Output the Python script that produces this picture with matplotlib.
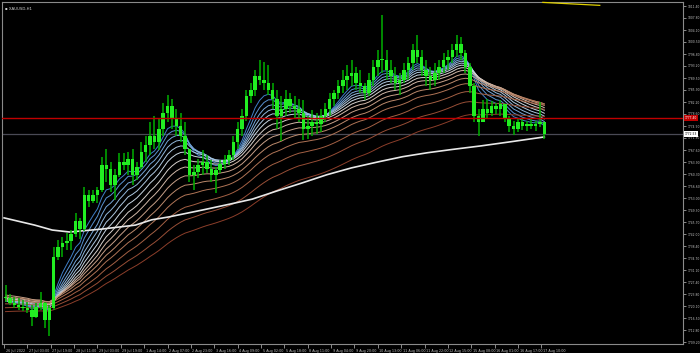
import numpy as np
import pandas as pd
import matplotlib
matplotlib.use("Agg")
import matplotlib.pyplot as plt
import matplotlib.transforms as mtransforms

# XAUUSD H1 in 3-hour blocks
high = [1726.6, 1723.8, 1723.0, 1722.5, 1722.0, 1721.5, 1720.5, 1721.0, 1724.5, 1721.5,
        1720.5, 1738.0, 1740.3, 1741.2, 1742.4, 1743.3, 1748.5, 1747.0, 1756.4, 1755.5,
        1755.5, 1756.4, 1765.5, 1768.0, 1764.0, 1762.0, 1766.7, 1766.7, 1767.0, 1768.0,
        1764.0, 1770.0, 1772.0, 1776.0, 1778.0, 1777.0, 1782.0, 1784.3, 1783.0, 1780.0,
        1779.0, 1776.0, 1767.6, 1763.0, 1765.0, 1767.6, 1766.0, 1764.6, 1762.5, 1764.6,
        1766.0, 1767.6, 1772.0, 1776.0, 1780.0, 1785.9, 1788.0, 1792.0, 1795.0, 1794.5,
        1793.4, 1788.0, 1786.0, 1784.0, 1785.9, 1785.0, 1784.0, 1783.0, 1782.8, 1778.0,
        1779.8, 1779.0, 1780.0, 1782.0, 1785.0, 1786.0, 1789.0, 1791.9, 1793.4, 1795.0,
        1793.0, 1792.0, 1788.0, 1791.0, 1795.0, 1798.0, 1808.7, 1798.0, 1795.0, 1793.0,
        1791.0, 1794.0, 1796.0, 1800.0, 1802.6, 1798.0, 1795.0, 1793.0, 1794.0, 1795.0,
        1797.0, 1798.0, 1800.0, 1802.6, 1802.0, 1798.0, 1794.0, 1788.0, 1780.0, 1782.8,
        1783.0, 1782.5, 1782.0, 1782.8, 1781.0, 1778.0, 1776.5, 1777.5, 1777.0, 1776.5,
        1777.0, 1776.5, 1782.2, 1776.0]
low = [1721.5, 1720.5, 1719.5, 1719.0, 1718.6, 1718.0, 1714.0, 1716.5, 1719.0, 1713.5,
       1711.0, 1719.0, 1734.2, 1735.1, 1737.2, 1737.2, 1741.2, 1740.5, 1743.0, 1750.3,
       1751.5, 1751.5, 1755.0, 1758.0, 1755.0, 1752.4, 1759.4, 1761.6, 1760.0, 1757.0,
       1758.5, 1762.0, 1764.0, 1766.0, 1768.0, 1767.6, 1772.0, 1776.0, 1774.0, 1772.0,
       1770.0, 1766.0, 1758.0, 1755.5, 1759.0, 1760.0, 1760.5, 1758.0, 1754.6, 1760.5,
       1762.0, 1763.0, 1764.5, 1768.0, 1772.0, 1776.5, 1782.0, 1784.0, 1787.4, 1786.0,
       1784.3, 1780.0, 1774.0, 1770.5, 1778.0, 1779.0, 1777.0, 1776.0, 1770.7, 1771.0,
       1772.0, 1772.5, 1773.0, 1776.0, 1778.0, 1781.0, 1783.0, 1785.0, 1786.0, 1787.0,
       1786.0, 1785.0, 1782.8, 1784.0, 1787.0, 1790.0, 1791.0, 1789.0, 1788.0, 1786.0,
       1784.5, 1788.0, 1789.0, 1792.0, 1794.0, 1790.0, 1787.0, 1786.0, 1787.0, 1789.0,
       1791.0, 1792.0, 1794.0, 1796.0, 1795.0, 1791.0, 1785.0, 1776.0, 1772.0, 1776.0,
       1777.4, 1778.0, 1778.5, 1778.0, 1776.0, 1773.0, 1772.2, 1773.0, 1773.7, 1773.5,
       1774.0, 1773.5, 1774.5, 1771.0]
close = [1722.5, 1721.0, 1720.5, 1720.0, 1719.5, 1719.0, 1717.0, 1720.0, 1721.0, 1716.0,
         1719.5, 1735.0, 1738.0, 1739.5, 1740.0, 1742.0, 1746.0, 1743.5, 1754.0, 1752.0,
         1754.0, 1755.5, 1763.0, 1762.0, 1757.0, 1760.0, 1764.0, 1763.0, 1765.0, 1760.0,
         1762.5, 1767.0, 1769.0, 1772.0, 1770.0, 1774.0, 1779.0, 1781.0, 1777.0, 1775.0,
         1772.0, 1768.0, 1760.0, 1761.0, 1763.0, 1764.0, 1762.0, 1760.0, 1761.5, 1763.5,
         1764.5, 1766.0, 1770.0, 1774.0, 1778.0, 1784.0, 1786.0, 1790.0, 1789.0, 1788.0,
         1786.0, 1783.0, 1778.0, 1780.0, 1783.0, 1781.0, 1780.0, 1779.0, 1774.0, 1775.0,
         1776.0, 1775.5, 1778.0, 1780.0, 1783.0, 1785.0, 1787.0, 1789.0, 1790.0, 1791.0,
         1788.0, 1787.0, 1785.0, 1789.0, 1793.0, 1795.0, 1795.0, 1792.0, 1790.0, 1788.0,
         1789.0, 1792.0, 1794.0, 1798.0, 1796.0, 1792.0, 1790.0, 1789.0, 1791.0, 1793.0,
         1795.0, 1796.0, 1798.0, 1800.0, 1797.0, 1793.0, 1787.0, 1778.0, 1776.0, 1780.0,
         1779.0, 1781.0, 1780.0, 1781.5, 1777.0, 1775.0, 1774.0, 1776.0, 1775.0, 1775.5,
         1775.0, 1775.5, 1776.0, 1772.5]

# moving average ribbon (periods in H1 bars), start values at the left edge
ma_periods = [20, 26, 33, 40, 48, 57, 68, 80, 95, 112, 132, 160, 195, 240]
ma_start = [1721.5, 1721.5, 1721.5, 1721.8, 1722.0, 1722.3, 1722.6, 1723.0,
            1723.6, 1723.0, 1722.0, 1720.8, 1719.6, 1718.4]
ma_colors = ["#3f7fc8", "#5a92d0", "#76a6d8", "#92b8dc", "#aec8e0", "#c8d6e2",
             "#d6d0cc", "#d2b8a8", "#c8a088", "#bc8a6c", "#b07456", "#a46044",
             "#984e36", "#8c3e2a"]

# long white average
white_x = [0, 21, 33, 45, 67, 90, 101, 113, 136, 158, 170, 187, 204, 221, 238, 256,
           273, 290, 307, 327, 348, 370]
white_y = [1747.0, 1744.8, 1743.3, 1742.7, 1743.6, 1744.8, 1746.4, 1747.3, 1749.4,
           1751.5, 1752.7, 1755.2, 1757.6, 1760.1, 1762.2, 1764.0, 1765.6, 1766.8,
           1767.8, 1768.9, 1770.2, 1771.6]

price_ticks = [1709.20, 1712.80, 1716.50, 1720.10, 1723.80, 1727.40, 1731.10, 1734.70,
               1738.40, 1742.00, 1745.70, 1749.30, 1753.00, 1756.60, 1760.30, 1763.90,
               1767.60, 1771.30, 1774.90, 1778.60, 1782.20, 1785.90, 1789.50, 1793.20,
               1796.80, 1800.50, 1804.10, 1807.80, 1811.40]
time_labels = ["26 Jul 2022", "27 Jul 03:00", "27 Jul 19:00", "28 Jul 11:00",
               "29 Jul 03:00", "29 Jul 19:00", "1 Aug 14:00", "2 Aug 07:00",
               "2 Aug 23:00", "3 Aug 16:00", "4 Aug 09:00", "5 Aug 02:00",
               "5 Aug 18:00", "8 Aug 11:00", "9 Aug 04:00", "9 Aug 20:00",
               "10 Aug 13:00", "11 Aug 06:00", "11 Aug 22:00", "12 Aug 15:00",
               "15 Aug 08:00", "16 Aug 01:00", "16 Aug 17:00", "17 Aug 10:00"]
label_step = 16

red_level = 1777.40
last_price = 1772.53
trend_x = [369, 408]
trend_y = [1812.5, 1811.6]

fg = "#c0c0c0"
fig = plt.figure(figsize=(7, 3.53), dpi=100, facecolor="black")
ax = fig.add_axes([2 / 700, 9 / 353, 681 / 700, 342 / 353], facecolor="black")

n = len(close)
x = np.arange(n) * 3 + 1
opens = [close[0]] + close[:-1]

# ribbon
for p, s0, col in zip(ma_periods, ma_start, ma_colors):
    a = 2.0 / (p / 3.0 + 1.0)
    ema = pd.Series([s0] + close).ewm(alpha=a, adjust=False).mean().values[1:]
    ax.plot(x, ema, color=col, lw=0.7, zorder=2)

ax.plot(white_x, white_y, color="#e8e8e8", lw=1.2, zorder=2)

# candles
ax.vlines(x, low, high, color="#00b000", lw=1.1, zorder=3)
body_lo = np.minimum(opens, close)
body_h = np.maximum(np.abs(np.array(close) - np.array(opens)), 0.4)
ax.bar(x, body_h, bottom=body_lo, width=2.4, color="#22ee22", zorder=3, linewidth=0)

ax.axhline(red_level, color="#c00000", lw=1.0, zorder=4)
ax.axhline(last_price, color="#4a4a55", lw=0.9, zorder=1)
ax.plot(trend_x, trend_y, color="#e0d000", lw=0.9, zorder=4, clip_on=False)

ax.set_xlim(-1.4, 465)
ax.set_ylim(1708.66, 1812.62)

for sp in ax.spines.values():
    sp.set_color("#8a8a8a")
    sp.set_linewidth(0.8)

ax.yaxis.tick_right()
ax.set_yticks(price_ticks)
ax.set_yticklabels([f"{v:.2f}" for v in price_ticks])
ax.tick_params(axis="y", colors=fg, labelsize=2.2, length=2, width=0.5, pad=1.0)

ticks_x = np.arange(len(time_labels)) * label_step
ax.set_xticks(ticks_x)
ax.set_xticklabels(time_labels, ha="left")
ax.tick_params(axis="x", colors=fg, labelsize=2.4, length=3, width=0.5, pad=0.8)
offset = mtransforms.ScaledTranslation(1.5 / 100, 0, fig.dpi_scale_trans)
for lab in ax.get_xticklabels():
    lab.set_transform(lab.get_transform() + offset)

# price boxes on the scale
trans = ax.get_yaxis_transform()
for lvl, bg, tc in [(red_level, "#c00000", "white"), (last_price, "white", "black")]:
    ax.text(1.003, lvl, f"{lvl:.2f}", transform=trans, fontsize=2.2, color=tc,
            va="center", ha="left", clip_on=False, zorder=6,
            bbox=dict(boxstyle="square,pad=0.25", fc=bg, ec="none"))

ax.text(0.004, 0.985, "\u25aa XAUUSD,H1", transform=ax.transAxes, fontsize=2.8,
        color="#d0d0d0", va="top", ha="left")

fig.savefig("out.png", dpi=100, facecolor="black")
